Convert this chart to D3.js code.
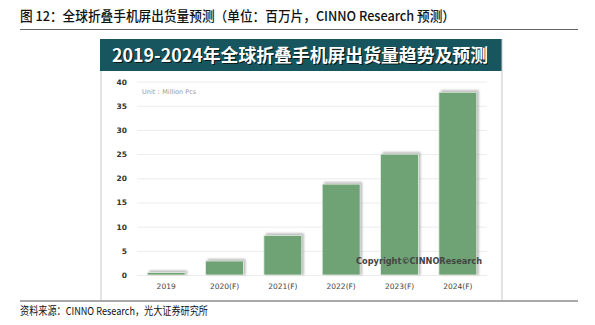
<!DOCTYPE html>
<html><head><meta charset="utf-8">
<script src="https://cdn.jsdelivr.net/npm/d3@7"></script>
<style>body{margin:0;background:#fff}svg{display:block}</style>
</head><body>
<script>
const categories = ["2019","2020(F)","2021(F)","2022(F)","2023(F)","2024(F)"];
const values = [0.5, 2.9, 8.2, 18.8, 25.0, 37.8];
const yTicks = [0,5,10,15,20,25,30,35,40];
const pageTitle = "图 12：全球折叠手机屏出货量预测（单位：百万片，CINNO Research 预测）";
const chartTitle = "2019-2024年全球折叠手机屏出货量趋势及预测";
const unitLabel = "Unit：Million Pcs";
const watermark = "Copyright©CINNOResearch";
const source = "资料来源：CINNO Research，光大证券研究所";

const W=595,H=325;
const svg=d3.select("body").append("svg").attr("width",W).attr("height",H);
const cjk="'Noto Sans CJK SC','Noto Sans',sans-serif";

const defs=svg.append("defs");
const f=defs.append("filter").attr("id","sh").attr("x","-20%").attr("y","-20%").attr("width","140%").attr("height","140%");
f.append("feGaussianBlur").attr("stdDeviation",0.8);

// page title
svg.append("text").attr("x",20).attr("y",21).attr("font-family",cjk).attr("font-size",13.5).attr("font-weight",500).attr("fill","#111")
 .attr("textLength",435).attr("lengthAdjust","spacingAndGlyphs").text(pageTitle);
svg.append("line").attr("x1",20).attr("x2",578).attr("y1",29.5).attr("y2",29.5).attr("stroke","#666").attr("stroke-width",1.2);

// chart box
svg.append("rect").attr("x",100).attr("y",39).attr("width",402).attr("height",32).attr("fill","#17565e");
const tt=svg.append("g");
tt.append("text").attr("x",300).attr("y",62).attr("text-anchor","middle").attr("font-family",cjk).attr("font-size",18).attr("font-weight",700).attr("fill","#000").attr("opacity",0.7).attr("transform","translate(1.2,1.2)")
 .attr("textLength",376).attr("lengthAdjust","spacingAndGlyphs").text(chartTitle);
tt.append("text").attr("x",300).attr("y",62).attr("text-anchor","middle").attr("font-family",cjk).attr("font-size",18).attr("font-weight",700).attr("fill","#fff")
 .attr("textLength",376).attr("lengthAdjust","spacingAndGlyphs").text(chartTitle);
svg.append("line").attr("x1",101).attr("x2",101).attr("y1",71).attr("y2",300).attr("stroke","#c8c8c8");
svg.append("line").attr("x1",502).attr("x2",502).attr("y1",39).attr("y2",300).attr("stroke","#c8c8c8");

const x=d3.scaleBand().domain(categories).range([137,487]).paddingInner(0.35).paddingOuter(0.175);
const y=d3.scaleLinear().domain([0,40]).range([275,81.6]);

const g=svg.append("g");
g.selectAll("line.grid").data(yTicks).join("line").attr("class","grid")
 .attr("x1",137).attr("x2",487).attr("y1",d=>y(d)+0.5).attr("y2",d=>y(d)+0.5).attr("stroke","#ececec");

const yAxis=d3.axisLeft(y).tickValues(yTicks).tickSize(0).tickPadding(0);
const ya=svg.append("g").attr("transform","translate(127,0)").call(yAxis);
ya.select(".domain").remove();
ya.selectAll("text").attr("font-family","'DejaVu Sans',sans-serif").attr("font-size",7.5).attr("font-weight",700).attr("fill","#333");

svg.append("text").attr("x",142).attr("y",94).attr("font-family","'DejaVu Sans',sans-serif").attr("font-size",6.5).attr("fill","#999").text(unitLabel);

// shadows
g.selectAll("rect.sh").data(values).join("rect").attr("class","sh")
 .attr("x",(d,i)=>x(categories[i])+2).attr("y",d=>y(d)-2).attr("width",x.bandwidth()).attr("height",d=>y(0)-y(d)+2)
 .attr("fill","#888").attr("opacity",0.6).attr("filter","url(#sh)");
g.selectAll("rect.bar").data(values).join("rect").attr("class","bar")
 .attr("x",(d,i)=>x(categories[i])).attr("y",d=>y(d)).attr("width",x.bandwidth()).attr("height",d=>y(0)-y(d))
 .attr("fill","#6fa274").attr("stroke","#e8efe8").attr("stroke-width",0.8);

const xAxis=d3.axisBottom(x).tickSize(0).tickPadding(0);
const xa=svg.append("g").attr("transform","translate(0,289)").call(xAxis);
xa.select(".domain").remove();
xa.selectAll("text").attr("font-family","'DejaVu Sans',sans-serif").attr("font-size",7.5).attr("fill","#444").attr("dy",0);

svg.append("text").attr("x",419).attr("y",264).attr("text-anchor","middle").attr("font-family","'DejaVu Sans',sans-serif").attr("font-size",9.5).attr("font-weight",700).attr("fill","#444").attr("textLength",126).attr("lengthAdjust","spacingAndGlyphs").text(watermark);

// footer
svg.append("line").attr("x1",20).attr("x2",578).attr("y1",301).attr("y2",301).attr("stroke","#555").attr("stroke-width",1.2);
svg.append("text").attr("x",20).attr("y",315).attr("font-family",cjk).attr("font-size",11).attr("fill","#111")
 .attr("textLength",188).attr("lengthAdjust","spacingAndGlyphs").text(source);
</script>
</body></html>
